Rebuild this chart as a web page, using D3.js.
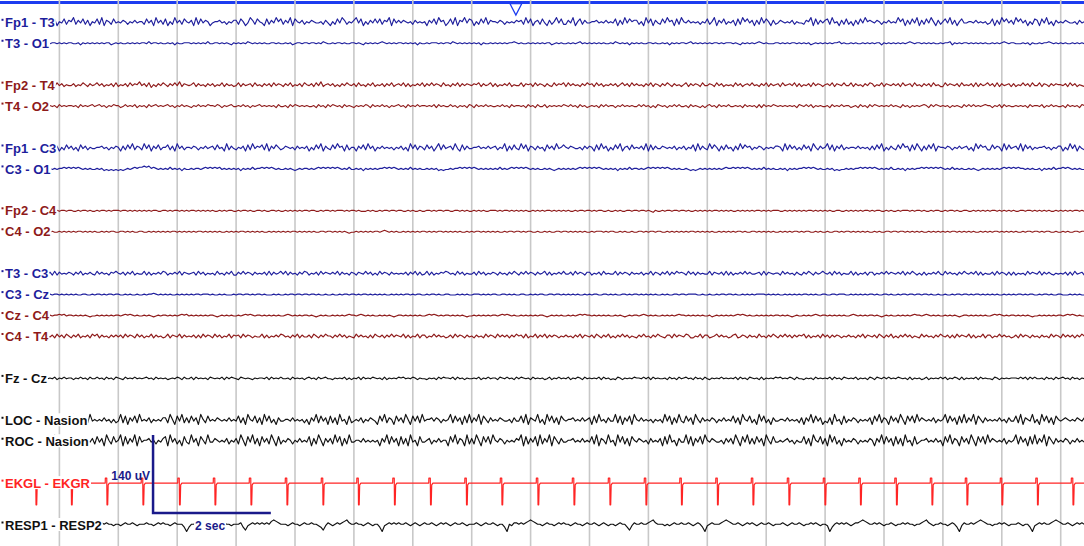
<!DOCTYPE html>
<html><head><meta charset="utf-8">
<script src="https://cdn.jsdelivr.net/npm/d3@7"></script>
<style>html,body{margin:0;padding:0;background:#fff;overflow:hidden}</style>
</head><body><svg id="c" width="1084" height="546"></svg>
<script>
// ---------- DATA ----------
// montage rows ("" = spacer row between groups)
const rows = ["Fp1 - T3","T3 - O1","","Fp2 - T4","T4 - O2","","Fp1 - C3","C3 - O1","","Fp2 - C4","C4 - O2","",
  "T3 - C3","C3 - Cz","Cz - C4","C4 - T4","","Fz - Cz","","LOC - Nasion","ROC - Nasion","","EKGL - EKGR","","RESP1 - RESP2"];
const sampleStart = 0.8;   // s
const sampleStep = 0.04;   // s
const recordSeconds = 18.4;
const gridSeconds = d3.range(1, 19);
const eventMarks = [8.75];  // s
const scaleBarStart = 2.59, scaleBarSeconds = 2, scaleBarUV = 140;

// samples: digits, 4.5 = baseline, times gain (uV per step)
const fp1T3 = `4637254736 5836473625 4738265374 5465354645 5374628463 7253846375 4628374652 4556453546 6375248637 5427364857
3648275463 5465445364 2537486354 6847253647 4736582746 4654536454 5264738562 4738265847 6253748365 5465354546
5638472563 7426358473 3648257364 4556454645 4726384756 6352847264 3748562738 5464545354 7358264735 4627385746
2638475263 4654546354 4365827364 6738452637 3526374856 5465354645 4857263748 2637485263 5748362574 4554645453
4726385746 3857462537 6274835264 5465445364 5263748365`;
const t3O1 = `4455454545 5445354545 4545455345 4544545454 5546455454 4545354455 5454545464 4554545435 4545465454 5454455454
4545345545 5455454654 4545545445 5454354545 4565454545 5454545354 4545554545 5465454545 4545354454 5454545565
4544545454 5455345454 4545456454 5454545445 4654545354 5454455454 4545354545 5456454545 4545545455 5454354545
4565454445 5454545545 4545345454 5454556454 4545445454 5455354545 4545456545 5454545445 4556354545 5454545454
4545456545 5444545354 4545565454 5454454545 4545354554`;
const fp2T4 = `5463746354 4635475364 5746354637 3546374658 4637253647 5364748365 4573645364 6354736453 4736456374 5364637465
3647354637 5463748356 4635364754 6374536473 5463647356 4736354647 3647465374 5364736465 4657364573 6354647354
4736563746 5364374657 3746453647 5637463546 4635746374 6453647365 3647536453 5736465374 4653746354 5374635647
4536473645 6374564736 3546374653 5647365474 4736453647 6354736546 4637456374 5364637453 3746546374 5463736457
4637364563 6354746374 4736536465 5463746354 3647465736`;
const t4O2 = `4545364545 5453645456 4564535465 5346454635 4536456454 5645354645 4354645465 5465354564 4546453545 6454545364
4536465454 5445364536 4654536454 3545465364 5464535456 4536454645 5454636454 4645354536 5364546454 4546453645
5453645364 4635454546 5464536453 4545364645 5354645454 4646453536 5453546464 4536454353 5645364546 4454536454
5363645465 4545454536 5464635454 4536454645 5345364536 4654545464 5436453545 4565364654 5453545436 4646454565
5354636454 4545453645 5463546454 4536454536 5454645364`;
const fp1C3 = `5374625374 6352746354 4556453546 5263748365 3847264735 5736284635 5465354645 6374528364 3546273846 5738264753
4654536454 6253748264 3748562735 5264738462 5464545354 6352847365 3746258374 5638427364 4556454645 6354826374
3847265364 5274638457 5465445364 6527384625 3748256374 5463827364 4654546354 6354728364 3847526374 5263847563
5465354546 6528374635 3746285364 5837264735 4554645453 6374825364 3748562738 5263748265 5465354645 6352847563
3746528374 5638274635 4556453546 6253847264 3847526375`;
const c3O1 = `4545455656 5656545454 4545343434 3434545656 6767565454 5464545354 4545545656 5656454545 4535454645 5656565454
4545434545 5454565656 5656545464 4545354545 4556565654 5454645454 4545453434 4545565656 5654545454 5464545656
5656545454 4545434545 4545456565 6565654545 4535454645 5454565656 5656545454 4543434545 4545454565 5656565654
5454645454 4545354545 5656565454 4545343445 4545565656 5654545464 4545354545 5656565656 5454645454 4545434545
4545456565 6565545454 4535454645 5656545454 4545454545`;
const fp2C4 = `4554545545 5445455454 4545545455 5455454545 4545455445 5454554545 4554545454 5445454554 4545545445 5454455454
4545454545 5455445455 4545554545 5454445454 4545545545 5445454454 4554545545 5445545454 4545454455 5454554545
4545445454 5455454545 4544545545 5454554454 4545445545 5455454354 4545545545 5454454545 4545545454 5445454545
4554545455 5445454545 4545545454 5454455445 4545454554 5455445454 4545554545 5454454554 4545545445 5445454545
4554545454 5445545545 4545454454 5454545545 4545455454`;
const c4O2 = `5454454545 4545545454 5445454554 4554545445 5445454545 4545545454 5454554545 4545445454 5455454545 4544545454
5454554545 4545445545 5454545434 4545454545 5456545454 4545454545 5454545545 4545454454 5455454545 4544545545
5454554454 4545445545 5454545454 4545554545 5445454454 4554545545 5445454545 4545545454 5454454545 4545545445
5454545454 4545454554 5455445454 4544554545 5454545454 4545445545 5455454545 4544545454 5454554545 4545445454
5455454545 4544545545 5454554454 4545445545 5454545454`;
const t3C3 = `4637364546 5364735464 3746453657 5463647354 4736354647 6354647365 4563746354 5374536473 3647465364 5463736457
4736453647 6354637465 4647364536 5365474635 3746536454 5463647363 4736354657 6453746354 4637463546 5364536475
3647465364 5736354647 4463746536 6354637454 4736465364 5463547365 3647364756 5374636454 4736546373 6354647464
4563736545 5374645364 3647536457 5463746354 4736354636 6354647465 4647364753 5363546474 3746453647 5464736354
4637465363 6354537465 4736464354 5463637456 3647354647`;
const c3Cz = `4545545454 5454455445 4554545545 5445454454 4545565454 5454454545 4545545554 5445454445 4554554545 5454445454
4545545545 5455454454 4544545545 5454554545 4545445454 5455454554 4545545445 5444545454 4555454545 5445545454
4554454545 5445545545 4545454454 5455445545 4544554545 5454545454 4545445545 5455554454 4544545545 5454454545
4555545454 5445454545 4554545445 5445545554 4545454545 5454455454 4545545545 5455454454 4544545545 5454554545
4545445454 5455454554 4545545445 5444545454 4555454545`;
const czC4 = `4545565645 5454545434 4545454545 5456565454 4545434545 5454545656 4545454545 5434545454 4545656545 5454545454
4565454545 5454345454 4545454565 5456545454 4545454345 5454545454 4565654545 5454545434 4545454545 5456565454
4545454545 5434545454 4545456565 5454545454 4545434545 5456545454 4545454565 5454545454 4534545454 5456565454
4545454545 5454543454 4545456545 5454545454 4565454545 5454345454 4545454565 5456545454 4545454345 5454545454
4565654545 5454545434 4545454545 5456565454 4545454545`;
const c4T4 = `5463746375 3647354637 5736453646 4637465374 6354736453 4736547364 5463637465 3746354736 5637465354 4736354647
6453647364 4637536475 5364746354 3746453637 5463647465 4736354736 6354746453 4637465364 5364537465 3746463647
5637354736 4736465354 6453647365 4637536473 5364746354 3647453647 5436637465 4763354736 6345746453 4673465364
5374536475 3647463646 5736354637 4636465354 6453647365 4637536473 5364746354 3746453647 5463637465 4736354736
6354746453 4637465364 5364537465 3746463647 5637354736`;
const fzCz = `4546354645 5354645364 4645364536 5436454645 4564536454 5345465364 4636454536 5454636465 4365454354 5546364546
4453645453 5645364564 4354546353 5463645465 4536354546 5645465354 4354536465 5463645354 4546354645 5365464536
4654536454 5346354645 4635465364 5454636453 4365354546 5546463645 4453645364 5645364536 4354546454 5463645365
4536354546 5645465364 4354536454 5463645365 4546354536 5365464645 4654536354 5346354546 4635465363 5454636454
4365354545 5546463646 4453645364 5645364535 4354546454`;
const loc = `5364745464 3846275384 5454645353 4837264738 4546354546 6385274836 3746285374 5465454645 4736285473 6284735264
4554645453 5264837462 7362845273 4546354654 2748365274 6385274738 4556465354 5837462738 3648275364 5465445364
4738265483 5284736275 4556454645 6273845364 4837264728 5464545354 5384726384 3746285364 5465354645 4736285473
5284735264 4554645453 6264837462 4362845273 5465354546 2748365274 6385274738 4654546354 5837462738 3648275364
5454645364 4738265483 5284736275 4565454654 6273845264`;
const roc = `4738265374 5465364546 3746285374 5827364827 4556453546 7284635274 3846275384 4654546354 6385274836 2746385273
5465354645 4726385264 6384726384 4554645454 5264837462 7362845274 4563546455 2748365283 6385274738 5465354546
5827364728 3648275364 4556454645 4738265384 5284736275 4654536454 6273845264 4837264738 5465445364 6385274836
3746285374 4545645354 4736285473 6284735264 5465354546 5264837462 7362845273 4556454645 2748365274 6385274738
4654546354 5837462738 3648275364 5465354645 4738265483`;
const resp = `5545655456 5565456545 4556565545 5456556545 5565545656 5545655530 3556545656 5456565545 5563145656 5656578765
5545655456 5565543146 5456567865 5655456545 5304565656 5565456545 6556545656 5456556545 5565456556 5455305466
5656787655 4565545656 5545655456 5565456545 5456553146 5565567865 5545456556 5565456530 4565556787 6556545656
5456556545 5565456556 5455656545 5403565656 5456678765 5656545565 4556565545 5678654556 5545653046 5565678765
5455656545 5565455304 5656556787 6556545656 5456556545`;
// EKG: beat times (s) and QRS shape (offset s, uV)
const ekgBeats = [0.603,1.205,1.808,2.419,3.039,3.642,4.253,4.864,5.475,6.078,6.689,7.301,7.912,8.514,9.126,
  9.737,10.348,10.959,11.562,12.173,12.776,13.387,13.998,14.601,15.212,15.815,16.409,17.003,17.606,18.209];
const ekgShape = [[-0.05,0],[-0.03,0],[-0.028,9],[-0.004,9],[0.0,-39],[0.012,-39],[0.02,-3],[0.04,0]];

const series = [
  ["Fp1 - T3", fp1T3, 2.4], ["T3 - O1", t3O1, 1.9], ["Fp2 - T4", fp2T4, 1.7], ["T4 - O2", t4O2, 1.8],
  ["Fp1 - C3", fp1C3, 2.2], ["C3 - O1", c3O1, 2.0], ["Fp2 - C4", fp2C4, 1.8], ["C4 - O2", c4O2, 1.8],
  ["T3 - C3", t3C3, 1.7], ["C3 - Cz", c3Cz, 1.6], ["Cz - C4", czC4, 1.6], ["C4 - T4", c4T4, 1.7],
  ["Fz - Cz", fzCz, 1.5], ["LOC - Nasion", loc, 3.0], ["ROC - Nasion", roc, 3.3], ["RESP1 - RESP2", resp, 2.6]
];

// ---------- STYLE ----------
const BLUE = "#1e1e9c", DRED = "#8e1a1a", BLACK = "#111111", RED = "#ff2424";
const colorOf = {"Fp1 - T3":BLUE,"T3 - O1":BLUE,"Fp2 - T4":DRED,"T4 - O2":DRED,"Fp1 - C3":BLUE,"C3 - O1":BLUE,
  "Fp2 - C4":DRED,"C4 - O2":DRED,"T3 - C3":BLUE,"C3 - Cz":BLUE,"Cz - C4":DRED,"C4 - T4":DRED,"Fz - Cz":BLACK,
  "LOC - Nasion":BLACK,"ROC - Nasion":BLACK,"EKGL - EKGR":RED,"RESP1 - RESP2":BLACK};

// ---------- DRAW ----------
const W = 1084, H = 546;
const svg = d3.select("#c");
const x = d3.scaleLinear().domain([0, recordSeconds]).range([0.5, 0.5 + 58.9 * recordSeconds]);
const rowY = d3.scalePoint().domain(d3.range(rows.length)).range([22.3, 525]);
const yOf = name => rowY(rows.indexOf(name));
const uv = d3.scaleLinear().domain([0, 140]).range([0, 78]);

// top event bar
svg.append("rect").attr("x", 0).attr("y", 1).attr("width", W).attr("height", 3).attr("fill", "#1c3cf0");

// grid
svg.append("g").selectAll("line").data(gridSeconds).join("line")
  .attr("x1", d => x(d)).attr("x2", d => x(d)).attr("y1", 0).attr("y2", H)
  .attr("stroke", "#c8c8c8").attr("stroke-width", 1.6);

// traces
const decode = s => s.trim().split(/\s+/).join("").split("").map(Number);
const gT = svg.append("g").attr("fill", "none").attr("stroke-linejoin", "round");
series.forEach(([name, str, gain]) => {
  const base = yOf(name);
  const pts = decode(str).map((d, i) => ({t: sampleStart + i * sampleStep, v: (d - 4.5) * gain}));
  const line = d3.line().x(p => x(p.t)).y(p => base - uv(p.v));
  gT.append("path").attr("d", line(pts)).attr("stroke", colorOf[name]).attr("stroke-width", 1.15);
});
// EKG
{
  const name = "EKGL - EKGR", base = yOf(name);
  const pts = [{t: 0, v: 0}];
  ekgBeats.forEach(b => ekgShape.forEach(([o, v]) => pts.push({t: b + o, v})));
  pts.push({t: recordSeconds, v: 0});
  const line = d3.line().x(p => x(p.t)).y(p => base - uv(p.v));
  gT.append("path").attr("d", line(pts)).attr("stroke", RED).attr("stroke-width", 1.2);
}

// labels
const font = "'Liberation Sans', Arial, sans-serif";
rows.filter(r => r).forEach(name => {
  const base = yOf(name);
  const g = svg.append("g");
  const bg = g.append("rect").attr("fill", "#fff");
  const t = g.append("text").attr("x", 5).attr("y", base + 4.6).text(name)
    .attr("font-family", font).attr("font-size", 13).attr("font-weight", "bold").attr("fill", colorOf[name]);
  const w = t.node().getComputedTextLength();
  bg.attr("x", 0).attr("y", base - 7).attr("width", 5 + w + 1).attr("height", 13);
  g.append("rect").attr("x", 1.5).attr("y", base - 3.5).attr("width", 2).attr("height", 2).attr("fill", colorOf[name]);
});

// scale bar
{
  const yBot = yOf("RESP1 - RESP2") - 12;
  const x0 = x(scaleBarStart), x1 = x(scaleBarStart + scaleBarSeconds);
  svg.append("path").attr("d", `M${x0},${yBot - uv(scaleBarUV)}V${yBot}H${x1}`)
    .attr("fill", "none").attr("stroke", "#1a1a8a").attr("stroke-width", 2.5);
  svg.append("text").attr("x", x0 - 3).attr("y", yOf("EKGL - EKGR") - 3).attr("text-anchor", "end")
    .attr("font-family", font).attr("font-size", 12).attr("font-weight", "bold").attr("fill", "#1a1a8a")
    .text(scaleBarUV + " uV");
  const st = svg.append("g");
  const sbg = st.append("rect").attr("fill", "#fff");
  const s2 = st.append("text").attr("x", x0 + 42).attr("y", yOf("RESP1 - RESP2") + 4.5)
    .attr("font-family", font).attr("font-size", 12).attr("font-weight", "bold").attr("fill", "#1a1a8a")
    .text(scaleBarSeconds + " sec");
  const sw = s2.node().getComputedTextLength();
  sbg.attr("x", x0 + 41).attr("y", yOf("RESP1 - RESP2") - 6).attr("width", sw + 2).attr("height", 12);
}

// event triangle
svg.append("g").selectAll("path").data(eventMarks).join("path")
  .attr("d", d => `M${x(d) - 6},3.5L${x(d) + 6},3.5L${x(d)},15Z`)
  .attr("fill", "#fff").attr("stroke", "#1c3cf0").attr("stroke-width", 1.3);
</script>
</body></html>
